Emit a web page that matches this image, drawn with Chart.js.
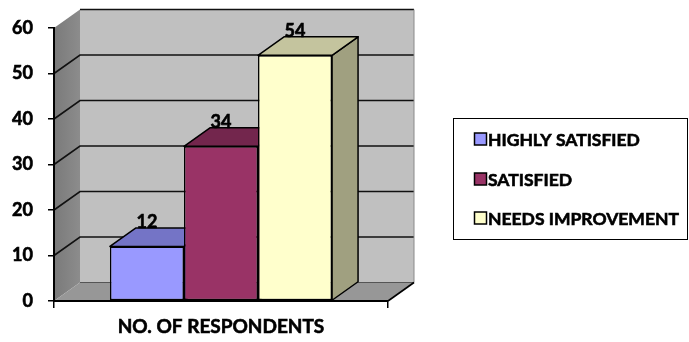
<!DOCTYPE html>
<html>
<head>
<meta charset="utf-8">
<script src="https://cdn.jsdelivr.net/npm/chart.js@4.4.1/dist/chart.umd.min.js"></script>
<style>
  html, body { margin: 0; padding: 0; background: #ffffff; }
  #wrap { width: 689px; height: 342px; position: relative; }
</style>
</head>
<body>
<div id="wrap"><canvas id="c" width="689" height="342"></canvas></div>
<script>
// Survey result: satisfaction level of respondents
const categories = ['NO. OF RESPONDENTS'];
const seriesNames = ['HIGHLY SATISFIED', 'SATISFIED', 'NEEDS IMPROVEMENT'];
const highlySatisfied = [12];
const satisfied = [34];
const needsImprovement = [54];
const yTicks = [0, 10, 20, 30, 40, 50, 60];

const FONT = 'Lato, "Open Sans", sans-serif';
const DEPTH_X = 26;
const DEPTH_Y = 18.5;
const TEXT_STROKE = 0.6;

const frontColors = ['#9999FF', '#993366', '#FFFFCC'];
const topColors = ['#7474C6', '#73264D', '#C4C49E'];
const sideColors = ['#6A6AB8', '#5E1F40', '#A0A080'];

function poly(ctx, pts, fill, stroke, lw) {
  ctx.beginPath();
  ctx.moveTo(pts[0][0], pts[0][1]);
  for (let i = 1; i < pts.length; i++) ctx.lineTo(pts[i][0], pts[i][1]);
  ctx.closePath();
  if (fill) { ctx.fillStyle = fill; ctx.fill(); }
  if (stroke) { ctx.strokeStyle = stroke; ctx.lineWidth = lw || 1; ctx.stroke(); }
}

function boldText(ctx, txt, x, y) {
  ctx.fillText(txt, x, y);
  ctx.lineWidth = TEXT_STROKE;
  ctx.strokeStyle = '#000';
  ctx.strokeText(txt, x, y);
}

// Walls, floor and gridlines of the 3D box
const boxPlugin = {
  id: 'box3d',
  beforeDraw(chart) {
    const ctx = chart.ctx;
    const a = chart.chartArea;
    const ys = chart.scales.y;
    ctx.save();
    ctx.fillStyle = '#ffffff';
    ctx.fillRect(0, 0, chart.width, chart.height);

    const L = a.left, R = a.right, T = a.top, B = a.bottom;
    const dx = DEPTH_X, dy = DEPTH_Y;

    // back wall
    poly(ctx, [[L + dx, T - dy], [R + dx, T - dy], [R + dx, B - dy], [L + dx, B - dy]], '#C0C0C0');
    // left side wall
    const g = ctx.createLinearGradient(L, 0, L + dx, 0);
    g.addColorStop(0, '#7A7A7A');
    g.addColorStop(1, '#8C8C8C');
    poly(ctx, [[L, T], [L + dx, T - dy], [L + dx, B - dy], [L, B]], g);
    // floor
    poly(ctx, [[L, B], [L + dx, B - dy], [R + dx, B - dy], [R, B]], '#979797');

    // gridlines: diagonal on the left wall, then across the back wall
    ctx.strokeStyle = '#111111';
    ctx.lineWidth = 1.6;
    yTicks.forEach(v => {
      if (v === 0) return;
      const y = ys.getPixelForValue(v);
      ctx.beginPath();
      if (v !== yTicks[yTicks.length - 1]) ctx.moveTo(L, y);
      else ctx.moveTo(L + dx, y - dy);
      ctx.lineTo(L + dx, y - dy);
      ctx.lineTo(R + dx, y - dy);
      ctx.stroke();
    });
    // back wall right edge
    ctx.lineWidth = 1;
    ctx.strokeStyle = '#8a8a8a';
    ctx.beginPath();
    ctx.moveTo(R + dx, T - dy);
    ctx.lineTo(R + dx, B - dy);
    ctx.stroke();
    // floor back edge
    ctx.strokeStyle = '#555555';
    ctx.beginPath();
    ctx.moveTo(L + dx, B - dy);
    ctx.lineTo(R + dx, B - dy);
    ctx.stroke();
    // floor right edge
    ctx.strokeStyle = '#000000';
    ctx.lineWidth = 1.6;
    ctx.beginPath();
    ctx.moveTo(R + dx, B - dy);
    ctx.lineTo(R, B);
    ctx.stroke();
    ctx.restore();
  },
  // top and side faces of each bar, left to right
  beforeDatasetsDraw(chart) {
    const ctx = chart.ctx;
    const dx = DEPTH_X, dy = DEPTH_Y;
    ctx.save();
    ctx.lineJoin = 'round';
    chart.data.datasets.forEach((ds, i) => {
      const meta = chart.getDatasetMeta(i);
      meta.data.forEach(bar => {
        const p = bar.getProps(['x', 'y', 'base', 'width'], true);
        const x1 = p.x - p.width / 2, x2 = p.x + p.width / 2;
        const yt = p.y, yb = p.base;
        poly(ctx, [[x2, yt], [x2 + dx, yt - dy], [x2 + dx, yb - dy], [x2, yb]], sideColors[i], '#000', 1.5);
        poly(ctx, [[x1, yt], [x1 + dx, yt - dy], [x2 + dx, yt - dy], [x2, yt]], topColors[i], '#000', 1.5);
      });
    });
    ctx.restore();
  },
  // value labels above the bars
  afterDatasetsDraw(chart) {
    const ctx = chart.ctx;
    ctx.save();
    ctx.font = 'bold 18px ' + FONT;
    ctx.fillStyle = '#000';
    ctx.textAlign = 'center';
    ctx.textBaseline = 'middle';
    chart.data.datasets.forEach((ds, i) => {
      const meta = chart.getDatasetMeta(i);
      meta.data.forEach((bar, j) => {
        const p = bar.getProps(['x', 'y'], true);
        boldText(ctx, String(ds.data[j]), p.x, p.y - 24);
      });
    });
    ctx.restore();
  },
  // legend box at the right
  afterDraw(chart) {
    const ctx = chart.ctx;
    ctx.save();
    ctx.strokeStyle = '#000';
    ctx.lineWidth = 1;
    ctx.strokeRect(453.5, 118.5, 234, 121);
    const rows = [139, 179, 218];
    ctx.font = 'bold 17.5px ' + FONT;
    ctx.textBaseline = 'middle';
    ctx.textAlign = 'left';
    chart.data.datasets.forEach((ds, i) => {
      const y = rows[i];
      ctx.fillStyle = ds.backgroundColor;
      ctx.fillRect(474.5, y - 6, 12, 12);
      ctx.lineWidth = 1.5;
      ctx.strokeStyle = '#000';
      ctx.strokeRect(474.5, y - 6, 12, 12);
      ctx.fillStyle = '#000';
      boldText(ctx, ds.label, 488, y + 1);
    });
    ctx.restore();
  }
};

const datasets = [highlySatisfied, satisfied, needsImprovement].map((d, i) => ({
  label: seriesNames[i],
  data: d,
  backgroundColor: frontColors[i],
  borderColor: '#000000',
  borderWidth: 1.5,
  borderSkipped: false,
  barPercentage: 1,
  categoryPercentage: 0.665
}));

new Chart(document.getElementById('c'), {
  type: 'bar',
  data: { labels: categories, datasets },
  plugins: [boxPlugin],
  options: {
    responsive: false,
    animation: false,
    devicePixelRatio: 1,
    layout: { padding: { top: 28, right: 301, left: 0, bottom: 0 } },
    plugins: { legend: { display: false }, tooltip: { enabled: false } },
    scales: {
      x: {
        type: 'category',
        grid: { display: true, offset: true, drawOnChartArea: false, tickLength: 7, color: '#000', lineWidth: 1.5 },
        border: { display: true, color: '#000', width: 2 },
        ticks: { color: '#000', font: { family: FONT, size: 19, weight: 'bold' }, padding: 7,
                 textStrokeColor: '#000', textStrokeWidth: TEXT_STROKE },
        afterFit(s) { s.height = 41; }
      },
      y: {
        min: 0,
        max: 60,
        afterBuildTicks(s) { s.ticks = yTicks.map(v => ({ value: v })); },
        grid: { display: true, drawOnChartArea: false, tickLength: 6, color: '#000', lineWidth: 1.5 },
        border: { display: true, color: '#000', width: 2 },
        ticks: { color: '#000', font: { family: FONT, size: 18, weight: 'bold' }, padding: 15,
                 textStrokeColor: '#000', textStrokeWidth: TEXT_STROKE },
        afterFit(s) { s.width = 54; }
      }
    }
  }
});
</script>
</body>
</html>
